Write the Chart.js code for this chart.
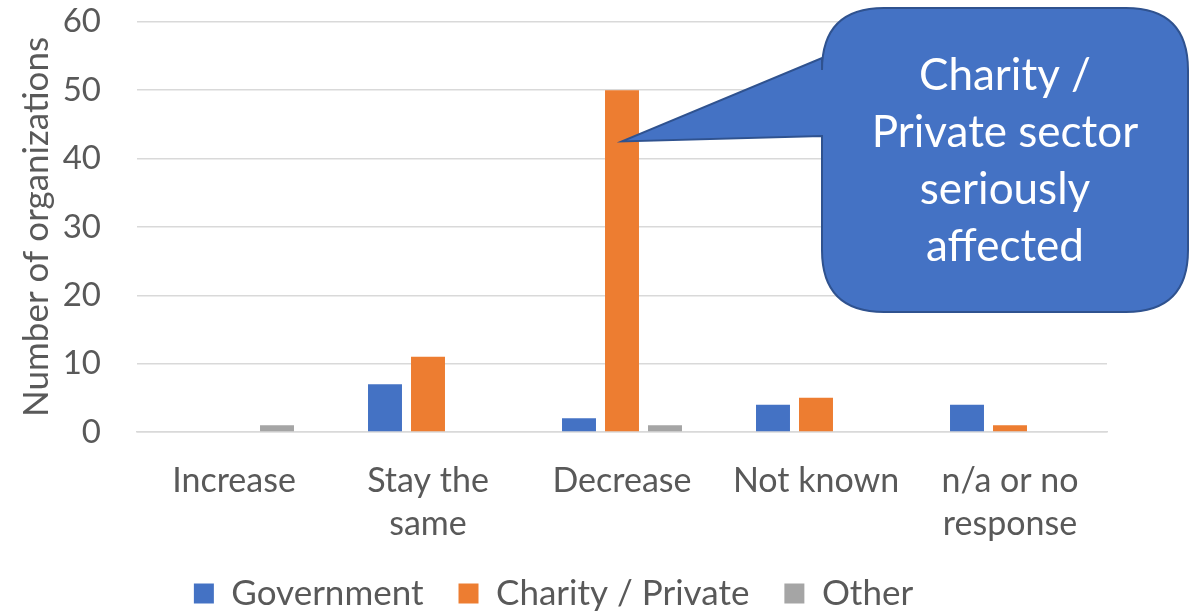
<!DOCTYPE html>
<html>
<head>
<meta charset="utf-8">
<script src="https://cdn.jsdelivr.net/npm/chart.js@4/dist/chart.umd.min.js"></script>
<style>
  html, body { margin:0; padding:0; background:#fff; }
  #wrap { width:1201px; height:613px; position:relative; }
</style>
</head>
<body>
<div id="wrap"><canvas id="c"></canvas></div>
<script>
const categories = [['Increase'], ['Stay the', 'same'], ['Decrease'], ['Not known'], ['n/a or no', 'response']];
const government = [0, 7, 2, 4, 4];
const charityPrivate = [0, 11, 50, 5, 1];
const other = [1, 0, 1, 0, 0];
const yTicks = [0, 10, 20, 30, 40, 50, 60];
const calloutLines = ['Charity /', 'Private sector', 'seriously', 'affected'];
const calloutPoint = { dataset: 1, index: 2, value: 42.5 };

const FONT = 'Lato, Calibri, sans-serif';
const TXT = '#595959';

// speech bubble pointing at the Decrease / Charity bar
const callout = {
  id: 'callout',
  afterDraw(chart) {
    const c = chart.ctx;
    const bar = chart.getDatasetMeta(calloutPoint.dataset).data[calloutPoint.index];
    const tx = bar.x, ty = chart.scales.y.getPixelForValue(calloutPoint.value);
    const l = 822, t = 8, r = 1188, b = 312, rad = 62;
    const a1 = 58, a2 = 136;
    c.save();
    c.beginPath();
    c.moveTo(l + rad, t);
    c.lineTo(r - rad, t);
    c.quadraticCurveTo(r, t, r, t + rad);
    c.lineTo(r, b - rad);
    c.quadraticCurveTo(r, b, r - rad, b);
    c.lineTo(l + rad, b);
    c.quadraticCurveTo(l, b, l, b - rad);
    c.lineTo(l, a2);
    c.lineTo(tx, ty);
    c.lineTo(l, a1);
    c.lineTo(l, t + rad);
    c.quadraticCurveTo(l, t, l + rad, t);
    c.closePath();
    c.fillStyle = '#4472C4';
    c.fill();
    c.lineWidth = 2;
    c.strokeStyle = '#2F528F';
    c.stroke();
    c.fillStyle = '#fff';
    c.font = '44px ' + FONT;
    c.textAlign = 'center';
    c.textBaseline = 'middle';
    calloutLines.forEach((s, i) => c.fillText(s, 1005, 76 + i * 57));
    c.restore();
  }
};

const ds = (label, data, color) => ({
  label, data, backgroundColor: color, borderColor: color, borderWidth: 0,
  categoryPercentage: 0.665, barPercentage: 0.79
});

new Chart(document.getElementById('c'), {
  type: 'bar',
  data: {
    labels: categories,
    datasets: [
      ds('Government', government, '#4472C4'),
      ds('Charity / Private', charityPrivate, '#ED7D31'),
      ds('Other', other, '#A5A5A5')
    ]
  },
  options: {
    responsive: true, maintainAspectRatio: false, animation: false,
    layout: { padding: { top: 1, right: 94, left: 0, bottom: -8 } },
    plugins: {
      legend: {
        position: 'bottom',
        labels: { color: TXT, boxWidth: 20, boxHeight: 20, padding: 35, font: { size: 35, family: FONT } }
      },
      tooltip: { enabled: false }
    },
    scales: {
      x: {
        grid: { display: false },
        border: { color: '#d9d9d9', width: 1.5 },
        ticks: { color: TXT, font: { size: 34, family: FONT, lineHeight: 1.25 }, padding: 20, maxRotation: 0 },
        afterFit(s) { s.height = 109; }
      },
      y: {
        min: 0, max: 60,
        afterBuildTicks(s) { s.ticks = yTicks.map(v => ({ value: v })); },
        grid: { color: '#d9d9d9', lineWidth: 1.5, drawTicks: true, tickLength: 34, tickColor: 'rgba(0,0,0,0)' },
        border: { display: false },
        ticks: { color: TXT, font: { size: 33, family: FONT }, padding: 2 },
        title: { display: true, text: 'Number of organizations', color: TXT, font: { size: 35, family: FONT }, padding: { top: 16, bottom: 0 } },
        afterFit(s) { s.width = 137; }
      }
    }
  },
  plugins: [callout]
});
</script>
</body>
</html>
